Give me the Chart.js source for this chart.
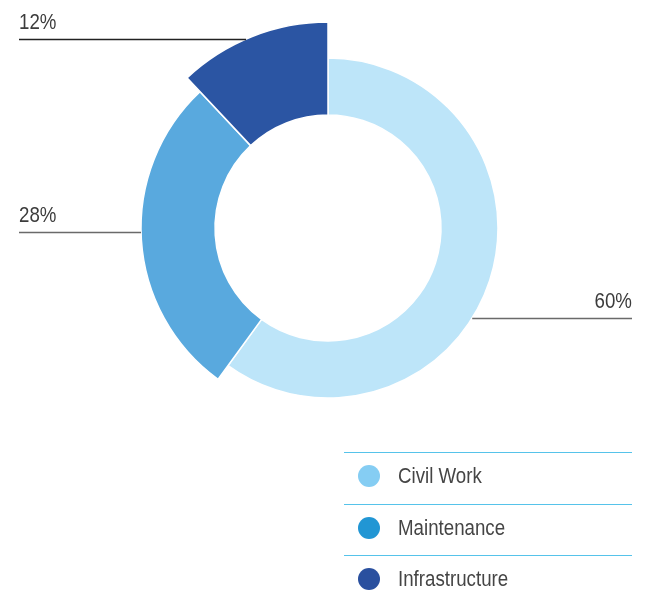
<!DOCTYPE html>
<html>
<head>
<meta charset="utf-8">
<script src="https://cdn.jsdelivr.net/npm/chart.js@4"></script>
<style>
  html, body { margin: 0; padding: 0; background: #fff; }
  #wrap { position: relative; width: 646px; height: 603px; overflow: hidden; }
  #myChart { position: absolute; left: 0; top: 0; }
  #legend { position: absolute; left: 344px; top: 452px; width: 288px; }
  .row { position: relative; height: 50.5px; border-top: 1px solid #56c3ea; }
  .dot { position: absolute; left: 14px; top: 12px; width: 22px; height: 22px; border-radius: 50%; }
  .lbl { position: absolute; left: 54px; top: 10px; font-family: "Liberation Sans", sans-serif; font-size: 22px; color: #454545;
         transform: scaleX(0.85); transform-origin: left center; white-space: nowrap; }
</style>
</head>
<body>
<div id="wrap">
  <canvas id="myChart" width="646" height="603"></canvas>
  <div id="legend"></div>
</div>
<script>
const labels = ['Civil Work', 'Maintenance', 'Infrastructure'];
const values = [60, 28, 12];
const valueLabels = ['60%', '28%', '12%'];

const sliceColors = ['#bde5f9', '#59a9de', '#2b55a3'];
const legendColors = ['#85cdf3', '#2196d4', '#2a509f'];
// outer radius of each slice in px (slices stick out by different amounts)
const outerRadii = [170, 187, 206];
// y of the leader line under each value label, and which side it sits on
const leaderY = [318, 232, 39];
const leaderSide = ['right', 'left', 'left'];

const legend = document.getElementById('legend');
labels.forEach((name, i) => {
  const row = document.createElement('div');
  row.className = 'row';
  if (i === labels.length - 1) row.style.height = '48px';
  row.innerHTML = '<span class="dot" style="background:' + legendColors[i] + '"></span><span class="lbl">' + name + '</span>';
  legend.appendChild(row);
});

const sliceRadius = {
  id: 'sliceRadius',
  afterDatasetUpdate(chart, args) {
    args.meta.data.forEach((arc, i) => {
      arc.outerRadius = outerRadii[i];
    });
  }
};

const leaderLabels = {
  id: 'leaderLabels',
  afterDraw(chart) {
    const ctx = chart.ctx;
    const meta = chart.getDatasetMeta(0);
    const squeeze = 0.85;
    ctx.save();
    ctx.font = '22px "Liberation Sans", sans-serif';
    ctx.fillStyle = '#3c3c3c';
    meta.data.forEach((arc, i) => {
      const y = leaderY[i];
      const dy = y - arc.y;
      const r = arc.outerRadius;
      const dx = Math.sqrt(Math.max(r * r - dy * dy, 0));
      let x1, x2, tx;
      if (leaderSide[i] === 'left') {
        x1 = 19; x2 = arc.x - dx;
        ctx.textAlign = 'left'; tx = 19;
      } else {
        x1 = arc.x + dx; x2 = 632;
        ctx.textAlign = 'right'; tx = 632;
      }
      ctx.strokeStyle = i === 2 ? '#222' : '#6a6a6a';
      ctx.lineWidth = 1.3;
      ctx.beginPath();
      ctx.moveTo(x1, y + 0.5);
      ctx.lineTo(x2, y + 0.5);
      ctx.stroke();
      ctx.save();
      ctx.translate(tx, y - 10);
      ctx.scale(squeeze, 1);
      ctx.textBaseline = 'alphabetic';
      ctx.fillText(valueLabels[i], 0, 0);
      ctx.restore();
    });
    ctx.restore();
  }
};

const ctx = document.getElementById('myChart');
const myChart = new Chart(ctx, {
  type: 'doughnut',
  data: {
    labels: labels,
    datasets: [
      {
        data: values,
        backgroundColor: sliceColors,
        borderColor: '#ffffff',
        borderWidth: 1.5,
        hoverOffset: 0
      }
    ]
  },
  options: {
    responsive: false,
    animation: false,
    radius: 206,
    cutout: '54.85%',
    layout: { padding: { left: 10, right: 0, top: 0, bottom: 147 } },
    plugins: {
      legend: { display: false },
      tooltip: { enabled: false }
    }
  },
  plugins: [sliceRadius, leaderLabels]
});
</script>
</body>
</html>
